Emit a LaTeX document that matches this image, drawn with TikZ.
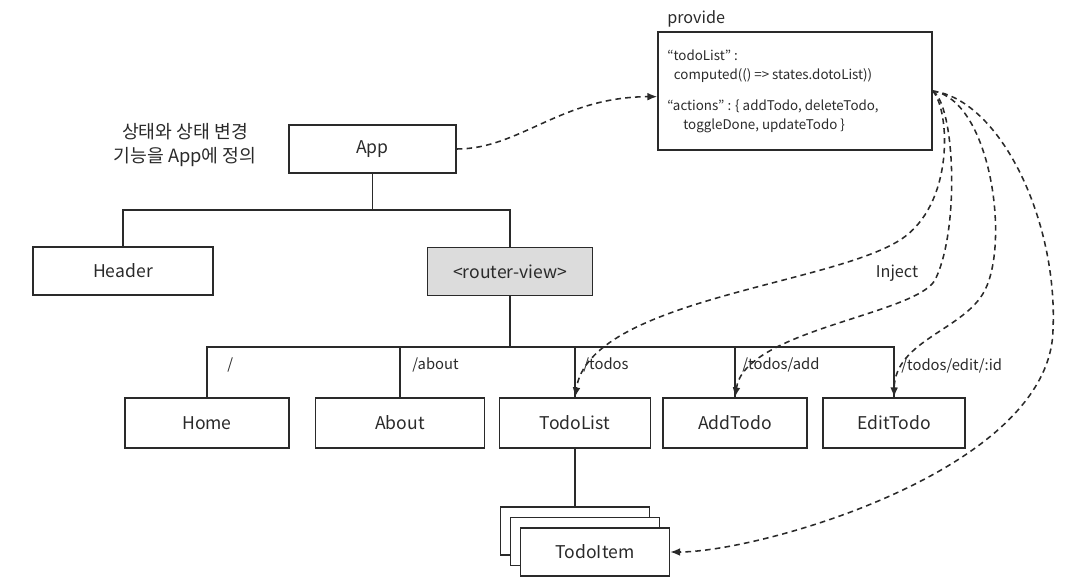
\documentclass[tikz,border=0pt]{standalone}
\usepackage{fontspec}
\setmainfont{Noto Sans CJK KR}
\usetikzlibrary{arrows.meta}
\definecolor{ink}{HTML}{2A2A2A}
\definecolor{viewgray}{HTML}{DCDCDC}
\tikzset{
  box/.style={draw=ink, line width=1pt, inner sep=0pt, minimum height=1.2cm, text=ink, font=\fontsize{12.5}{14}\selectfont},
  route/.style={anchor=west, inner sep=0pt, text=ink, font=\fontsize{10.5}{12}\selectfont},
  tree/.style={draw=ink, line width=1pt},
  inject/.style={draw=ink, line width=1.1pt, dash pattern=on 4pt off 3pt, -{Latex[length=7pt,width=5.5pt]}}
}
\begin{document}
\begin{tikzpicture}[x=0.025cm, y=-0.025cm]
  \useasboundingbox (0,0) rectangle (1072,587);

  % Draw the provide block
  \node[box, minimum width=6.85cm, minimum height=2.95cm] (provide) at (795,91) {};
  \node[anchor=base west, inner sep=0pt, text=ink, font=\fontsize{11.5}{13}\selectfont] (providelabel) at (667,23) {provide};
  \node[anchor=north west, inner sep=0pt, align=left, text=ink, font=\fontsize{9.5}{13.5}\selectfont] (providetext) at (667,50)
    {``todoList'' :\\ \hspace*{0.5em}computed(() => states.dotoList))\\[8pt]
     ``actions'' : \{ addTodo, deleteTodo,\\ \hspace*{1.2em}toggleDone, updateTodo \}};

  % Draw the top of the tree
  \node[align=center, inner sep=0pt, text=ink, font=\fontsize{13}{17}\selectfont] (note) at (185,145) {상태와 상태 변경\\기능을 App에 정의};
  \node[box, minimum width=4.175cm] (app) at (372.5,149) {App};
  \node[box, minimum width=4.5cm] (header) at (123,271) {Header};
  \node[box, minimum width=4.125cm, fill=viewgray] (routerview) at (510,271.5) {<router-view>};

  % Draw the pages
  \node[box, minimum width=4.1cm, minimum height=1.25cm] (home) at (207,423) {Home};
  \node[box, minimum width=4.225cm, minimum height=1.25cm] (about) at (400,423) {About};
  \node[box, minimum width=3.775cm, minimum height=1.25cm] (todolist) at (575,423) {TodoList};
  \node[box, minimum width=3.6cm, minimum height=1.25cm] (addtodo) at (735,423) {AddTodo};
  \node[box, minimum width=3.55cm, minimum height=1.25cm] (edittodo) at (894,423) {EditTodo};

  % Draw the stacked items
  \node[box, minimum width=3.725cm, fill=white] (item1) at (575,531) {};
  \node[box, minimum width=3.725cm, fill=white] (item2) at (585,541.5) {};
  \node[box, minimum width=3.725cm, fill=white] (item3) at (595,552) {TodoItem};

  % Draw the tree lines
  \coordinate (split1) at (372.5,210);
  \coordinate (split2) at (510,347);
  \draw[tree] (app.south) -- (split1);
  \draw[tree] (header.north) |- (split1) -| (routerview.north);
  \draw[tree] (routerview.south) -- (split2);
  \draw[tree] (home.north) |- (split2) -| (edittodo.north);
  \foreach \page in {about,todolist,addtodo}
    \draw[tree] (\page.north) -- (\page.north |- split2);
  \draw[tree] (todolist.south) -- (item1.north);

  % Route labels
  \node[route] (rhome) at (227,365) {/};
  \node[route] (rabout) at (412,365) {/about};
  \node[route] (rtodos) at (583,365) {/todos};
  \node[route] (radd) at (742,365) {/todos/add};
  \node[route] (redit) at (901,366) {/todos/edit/:id};

  % Draw the provide and inject arrows
  \draw[inject] (app.east) .. controls (520,149) and (560,97) .. ([yshift=-4pt]provide.west);
  \draw[inject] (provide.east) .. controls (950,110) and (955,205) .. (900,240) .. controls (830,285) and (590,300) .. (todolist.north);
  \draw[inject] (provide.east) .. controls (955,105) and (960,230) .. (935,280) .. controls (915,315) and (745,330) .. (addtodo.north);
  \draw[inject] (provide.east) .. controls (990,100) and (1010,240) .. (985,290) .. controls (965,330) and (895,340) .. (edittodo.north);
  \draw[inject] (provide.east) .. controls (1000,100) and (1058,220) .. (1053,330) .. controls (1050,470) and (760,552) .. (item3.east);
  \node[inner sep=0pt, text=ink, font=\fontsize{11.5}{13}\selectfont] (injectlabel) at (897,273) {Inject};
\end{tikzpicture}
\end{document}
